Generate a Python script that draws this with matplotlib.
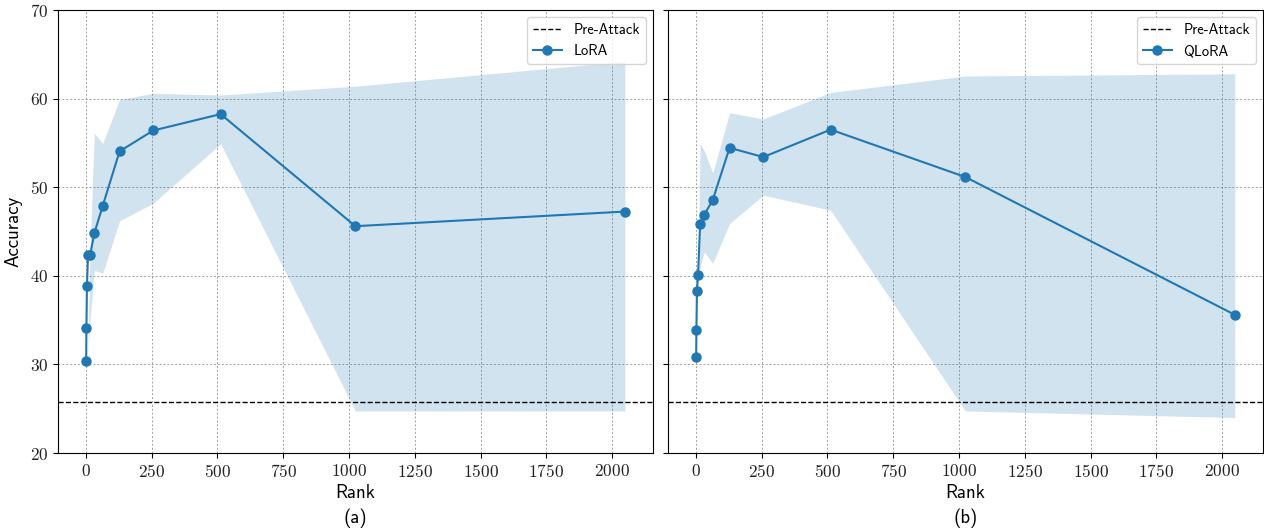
import matplotlib
matplotlib.use("Agg")
import matplotlib.pyplot as plt

# ranks on the x axis
ranks = [1, 2, 4, 8, 16, 32, 64, 128, 256, 512, 1024, 2048]

# LoRA accuracy (mean + band)
lora_mean = [30.4, 34.1, 38.8, 42.3, 42.35, 44.8, 47.9, 54.05, 56.4, 58.25, 45.6, 47.25]
lora_low = [30.3, 31.0, 31.3, 31.6, 35.0, 40.6, 40.3, 46.2, 48.2, 54.9, 24.75, 24.75]
lora_high = [30.6, 31.3, 31.5, 31.8, 43.0, 56.1, 54.95, 59.9, 60.6, 60.4, 61.4, 64.2]

# QLoRA accuracy (mean + band)
qlora_mean = [30.8, 33.9, 38.3, 40.05, 45.8, 46.9, 48.55, 54.45, 53.4, 56.5, 51.15, 35.6]
qlora_low = [30.6, 33.7, 38.1, 39.9, 40.9, 42.7, 41.4, 45.9, 49.1, 47.4, 24.75, 24.0]
qlora_high = [31.0, 34.1, 38.5, 40.2, 54.95, 54.1, 51.6, 58.4, 57.7, 60.7, 62.55, 62.8]

pre_attack = 25.8

plt.rcParams['font.family'] = 'cmss10'
plt.rcParams['axes.unicode_minus'] = False
plt.rcParams['axes.formatter.use_mathtext'] = True

fig, axes = plt.subplots(1, 2, figsize=(12.64, 5.31), dpi=100, sharey=True)
plt.subplots_adjust(left=58 / 1264, right=1263 / 1264, top=1 - 10 / 531,
                    bottom=1 - 453 / 531, wspace=15 / 595)

panels = [(axes[0], lora_mean, lora_low, lora_high, 'LoRA', '(a)'),
          (axes[1], qlora_mean, qlora_low, qlora_high, 'QLoRA', '(b)')]

for ax, mean, low, high, name, tag in panels:
    ax.axhline(pre_attack, color='black', linestyle='--', linewidth=1, label='Pre-Attack')
    ax.plot(ranks, mean, marker='o', color='#1f77b4', linewidth=1.5, markersize=6.5, label=name)
    ax.fill_between(ranks, low, high, color='#1f77b4', alpha=0.2, linewidth=0)
    ax.set_xlim(-106, 2155)
    ax.set_ylim(20, 70)
    ax.set_xticks([0, 250, 500, 750, 1000, 1250, 1500, 1750, 2000])
    ax.set_yticks([20, 30, 40, 50, 60, 70])
    ax.grid(True, color='#a0a0a0', linestyle=(0, (2, 2)), linewidth=0.7)
    ax.set_axisbelow(True)
    for lbl in ax.get_xticklabels() + ax.get_yticklabels():
        lbl.set_fontfamily('cmr10')
        lbl.set_fontsize(12.5)
        lbl.set_color('#222222')
    ax.set_xlabel('Rank', fontsize=13.5, labelpad=3)
    ax.text(0.5, -0.125, tag, transform=ax.transAxes, ha='center', va='top', fontsize=13.5)
    ax.legend(loc='upper right', fontsize=10.5)

axes[0].set_ylabel('Accuracy', fontsize=13.5, labelpad=5)

fig.savefig('out.png', dpi=100)
